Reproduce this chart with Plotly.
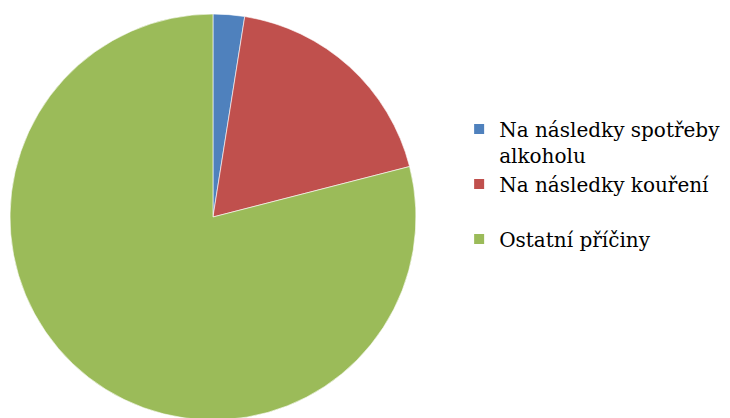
import plotly.graph_objects as go

labels = ["Na následky spotřeby<br>alkoholu", "Na následky kouření<br> ", "Ostatní příčiny"]
values = [2.5, 18.5, 79.0]
colors = ["#4F81BD", "#C0504D", "#9BBB59"]

fig = go.Figure(go.Pie(
    labels=labels,
    values=values,
    sort=False,
    direction="clockwise",
    rotation=0,
    textinfo="none",
    hoverinfo="label+percent",
    marker=dict(colors=colors, line=dict(color="white", width=0.6)),
    domain=dict(x=[0.0027, 0.5589], y=[0.0144, 0.9856]),
))

fig.update_layout(
    width=730,
    height=418,
    margin=dict(l=0, r=0, t=0, b=0),
    paper_bgcolor="white",
    plot_bgcolor="white",
    font=dict(family="DejaVu Serif", size=20, color="black"),
    legend=dict(
        x=0.618,
        y=0.757,
        xanchor="left",
        yanchor="top",
        valign="top",
        itemsizing="constant",
        font=dict(family="DejaVu Serif", size=20, color="black"),
    ),
)

fig.write_html("out.html")
